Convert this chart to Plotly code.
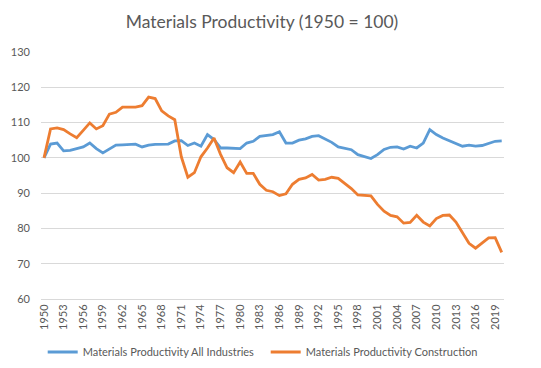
import plotly.graph_objects as go

years = list(range(1950, 2021))

all_industries = [
    100.0, 103.9, 104.2, 102.0, 102.1, 102.5, 103.1, 104.2, 102.6, 101.4,
    102.5, 103.6, 103.7, 103.7, 103.9, 103.1, 103.6, 103.8, 103.8, 103.9,
    104.8, 104.9, 103.5, 104.2, 103.3, 106.6, 105.2, 102.8, 102.8, 102.8,
    102.6, 104.2, 104.7, 106.1, 106.3, 106.6, 107.4, 104.2, 104.2, 105.0,
    105.4, 106.1, 106.3, 105.3, 104.4, 103.1, 102.7, 102.3, 100.9, 100.3,
    99.8, 100.9, 102.4, 103.0, 103.1, 102.5, 103.3, 102.8, 104.2, 108.0,
    106.6, 105.6, 104.9, 104.0, 103.3, 103.6, 103.3, 103.5, 104.0, 104.7,
    104.8,
]

construction = [
    100.0, 108.2, 108.5, 108.0, 106.8, 105.7, 107.8, 109.9, 108.2, 109.1,
    112.4, 112.9, 114.4, 114.4, 114.4, 114.8, 117.2, 116.8, 113.3, 111.9,
    110.8, 100.3, 94.5, 95.8, 100.3, 102.8, 105.6, 101.0, 97.2, 95.8,
    98.8, 95.6, 95.6, 92.5, 90.8, 90.4, 89.3, 89.8, 92.5, 93.9,
    94.3, 95.3, 93.7, 93.9, 94.5, 94.2, 92.7, 91.3, 89.5, 89.4,
    89.2, 86.8, 84.9, 83.7, 83.3, 81.5, 81.7, 83.7, 81.8, 80.7,
    82.8, 83.7, 83.8, 81.8, 78.8, 75.8, 74.4, 75.8, 77.3, 77.4,
    73.2,
]

tick_years = list(range(1950, 2020, 3))
tick_labels = [str(y) for y in tick_years]
y_ticks = [60, 70, 80, 90, 100, 110, 120, 130]

series_names = ["Materials Productivity All Industries", "Materials Productivity Construction"]
title_text = "Materials Productivity (1950 = 100)"

FONT = "Lato"
GRAY = "#595959"

# page body has an 8px default margin, so the figure is drawn 8px in from the top-left
W, H = 533, 360

fig = go.Figure()
fig.add_trace(go.Scatter(x=years, y=all_industries, mode="lines", name=series_names[0],
                         line=dict(color="#5B9BD5", width=2.8)))
fig.add_trace(go.Scatter(x=years, y=construction, mode="lines", name=series_names[1],
                         line=dict(color="#ED7D31", width=2.8)))

fig.update_layout(
    width=W, height=H,
    paper_bgcolor="white", plot_bgcolor="white",
    margin=dict(l=33, r=37, t=44, b=69, autoexpand=False),
    title=dict(text=title_text, x=254/W, xref="container", xanchor="center",
               y=1 - 14/H, yref="container", yanchor="middle",
               font=dict(family=FONT, size=17.5, color=GRAY)),
    font=dict(family=FONT, color=GRAY),
    showlegend=True,
    legend=dict(orientation="h", x=34.7/W, xref="container", xanchor="left",
                y=1 - 344/H, yref="container", yanchor="middle",
                font=dict(family=FONT, size=11, color=GRAY),
                itemwidth=30, entrywidth=178, entrywidthmode="pixels",
                bgcolor="rgba(0,0,0,0)"),
    xaxis=dict(range=[1949.54, 2020.35], tickvals=tick_years, ticktext=tick_labels,
               tickangle=-90, showgrid=False, zeroline=False,
               showline=True, linecolor="#D9D9D9", linewidth=1,
               ticks="", tickfont=dict(family=FONT, size=11, color=GRAY)),
    yaxis=dict(range=[60, 130], tickvals=y_ticks, showgrid=True, gridcolor="#D9D9D9",
               gridwidth=1, zeroline=False, showline=False, ticks="",
               ticklabelstandoff=10,
               tickfont=dict(family=FONT, size=11, color=GRAY)),
)

fig.write_html("out.html")
